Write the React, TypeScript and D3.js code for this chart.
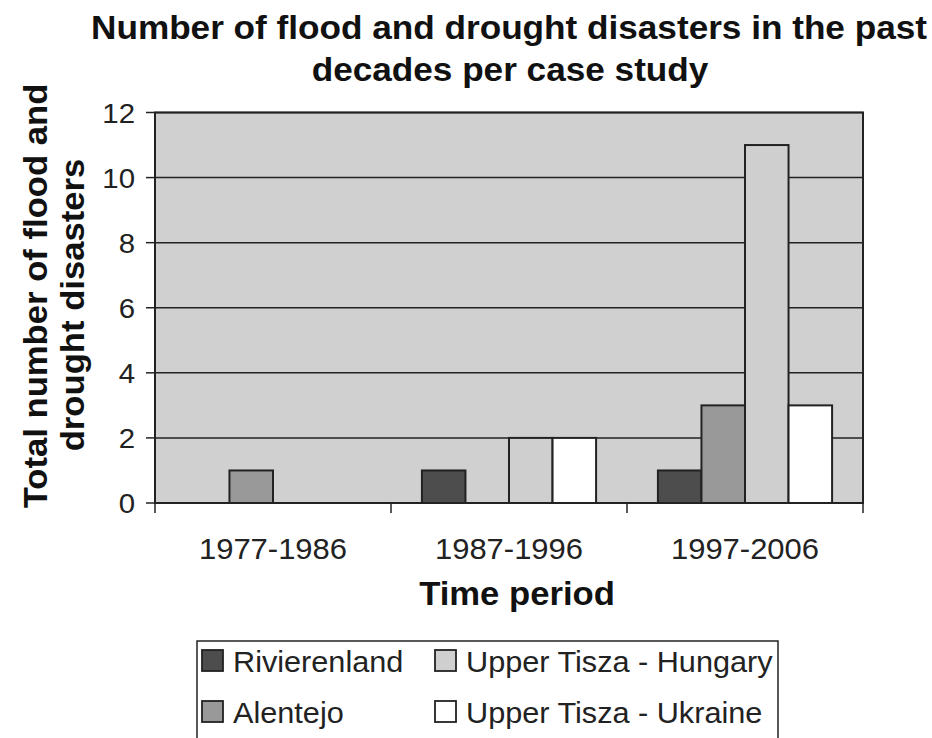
import React from "react";
import * as d3 from "d3";

const periods = ["1977-1986", "1987-1996", "1997-2006"];
const seriesNames = ["Rivierenland", "Alentejo", "Upper Tisza - Hungary", "Upper Tisza - Ukraine"];
const rivierenland = [0, 1, 1];
const alentejo = [1, 0, 3];
const tiszaHungary = [0, 2, 11];
const tiszaUkraine = [0, 2, 3];
const yTicks = [0, 2, 4, 6, 8, 10, 12];
const seriesColors = ["#4d4d4d", "#999999", "#cfcfcf", "#ffffff"];

const W = 932;
const H = 738;
const margin = { top: 112.5, right: 69, bottom: 235, left: 155 };
const SX = 1.05; // reference glyphs are a touch wider than Liberation Sans

// text drawn with a slight horizontal stretch
const T: React.FC<{
  x: number;
  y: number;
  size: number;
  anchor?: "start" | "middle" | "end";
  bold?: boolean;
  rotate?: number;
  dy?: string;
  children: React.ReactNode;
}> = ({ x, y, size, anchor = "start", bold = false, rotate = 0, dy, children }) => (
  <text
    transform={`translate(${x},${y}) rotate(${rotate}) scale(${SX},1)`}
    textAnchor={anchor}
    fontSize={size}
    fontWeight={bold ? "bold" : "normal"}
    fill={bold ? "#111" : "#222"}
    dy={dy}
  >
    {children}
  </text>
);

const App: React.FC = () => {
  const innerW = W - margin.left - margin.right;
  const innerH = H - margin.top - margin.bottom;
  const font = "'Liberation Sans', Arial, sans-serif";

  const x0 = d3.scaleBand<string>().domain(periods).range([0, innerW]).paddingInner(0).paddingOuter(0);
  const x1 = d3
    .scaleBand<string>()
    .domain(seriesNames)
    .range([0, x0.bandwidth()])
    .paddingInner(0)
    .paddingOuter(0.71);
  const y = d3.scaleLinear().domain([0, 12]).range([innerH, 0]);

  const allSeries = [rivierenland, alentejo, tiszaHungary, tiszaUkraine];

  const legendItems = [
    { name: seriesNames[0], color: seriesColors[0], x: 202, y: 650 },
    { name: seriesNames[1], color: seriesColors[1], x: 202, y: 701 },
    { name: seriesNames[2], color: seriesColors[2], x: 435, y: 650 },
    { name: seriesNames[3], color: seriesColors[3], x: 435, y: 701 },
  ];

  return (
    <svg width={W} height={H} style={{ position: "absolute", left: 0, top: 0, background: "#fff" }} fontFamily={font}>
      <T x={509} y={39} size={33.5} anchor="middle" bold>
        Number of flood and drought disasters in the past
      </T>
      <T x={510} y={81} size={33.5} anchor="middle" bold>
        decades per case study
      </T>

      <T x={47} y={296} size={33} anchor="middle" bold rotate={-90}>
        Total number of flood and
      </T>
      <T x={84} y={305} size={33} anchor="middle" bold rotate={-90}>
        drought disasters
      </T>

      <g transform={`translate(${margin.left},${margin.top})`}>
        <rect x={0} y={0} width={innerW} height={innerH} fill="#d0d0d0" />
        {yTicks.map((t) => (
          <g key={t}>
            <line x1={0} x2={innerW} y1={y(t)} y2={y(t)} stroke="#222" strokeWidth={1.5} />
            <line x1={-9} x2={0} y1={y(t)} y2={y(t)} stroke="#222" strokeWidth={1.5} />
            <T x={-20} y={y(t)} size={28} anchor="end" dy="0.36em">
              {t}
            </T>
          </g>
        ))}
        {periods.map((p, i) => (
          <g key={p} transform={`translate(${x0(p)},0)`}>
            {allSeries.map((s, j) =>
              s[i] > 0 ? (
                <rect
                  key={j}
                  x={x1(seriesNames[j])}
                  y={y(s[i])}
                  width={x1.bandwidth()}
                  height={innerH - y(s[i])}
                  fill={seriesColors[j]}
                  stroke="#222"
                  strokeWidth={2}
                />
              ) : null
            )}
          </g>
        ))}
        <rect x={0} y={0} width={innerW} height={innerH} fill="none" stroke="#222" strokeWidth={2} />
        {[0, 1, 2, 3].map((k) => (
          <line key={k} x1={k * x0.step()} x2={k * x0.step()} y1={innerH} y2={innerH + 10} stroke="#222" strokeWidth={1.5} />
        ))}
        {periods.map((p) => (
          <T key={p} x={(x0(p) ?? 0) + x0.bandwidth() / 2} y={innerH + 56} size={29.5} anchor="middle">
            {p}
          </T>
        ))}
        <T x={innerW / 2 + 8} y={innerH + 102} size={33} anchor="middle" bold>
          Time period
        </T>
      </g>

      <rect x={197} y={641} width={581} height={110} fill="none" stroke="#222" strokeWidth={1.5} />
      {legendItems.map((d) => (
        <g key={d.name}>
          <rect x={d.x} y={d.y} width={21} height={21} fill={d.color} stroke="#222" strokeWidth={1.8} />
          <T x={d.x + 31} y={d.y + 22} size={29.2}>
            {d.name}
          </T>
        </g>
      ))}
    </svg>
  );
};

export default App;
